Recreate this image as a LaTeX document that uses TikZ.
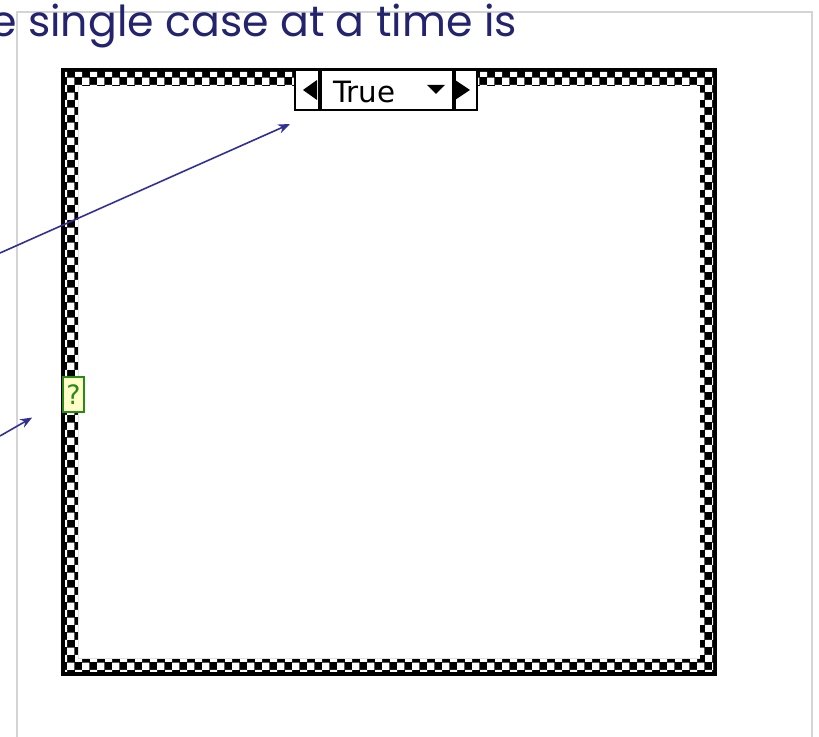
\documentclass[tikz,border=0pt]{standalone}
\usepackage{fontspec}
\newfontfamily\capfont{Poppins}
\newfontfamily\guifont{DejaVu Sans}
\usetikzlibrary{arrows.meta,patterns,calc}
\definecolor{nBlue}{RGB}{36,36,110}
\definecolor{aBlue}{RGB}{48,48,150}
\definecolor{fGreen}{RGB}{255,255,200}
\definecolor{dGreen}{RGB}{40,140,20}
\definecolor{lGray}{RGB}{212,212,212}
\begin{document}
\begin{tikzpicture}[x=0.75pt,y=-0.75pt,
  sel/.style={draw,line width=1.5pt,fill=white,inner sep=0,minimum height=30pt},
  a/.style={-{Stealth[length=9pt,width=7pt]},line width=1.2pt,aBlue}]
  \useasboundingbox (0,0) rectangle (819,737);
  \draw[lGray,line width=1pt] (17,737) |- (812,12) -- (812,737);
  \node[anchor=base west,inner sep=0,text=nBlue,font=\capfont\fontsize{32}{36}\selectfont] (cap) at (-10,37) {e single case at a time is};
  % case frame
  \fill[even odd rule] (62,69) rectangle (716,675) (78,86) rectangle (700,659);
  \fill[pattern=checkerboard,pattern color=white,even odd rule] (65,72) rectangle (713,672) (78,86) rectangle (700,659);
  \draw[line width=1.5pt] (62,69) rectangle (716,675);
  % selector
  \node[sel,minimum width=99pt] (mid) at (387,90) {};
  \node[sel,minimum width=18pt,anchor=east] (prev) at (mid.west) {};
  \node[sel,minimum width=16.5pt,anchor=west] (next) at (mid.east) {};
  \node[anchor=base west,inner sep=0,font=\guifont\fontsize{22}{22}\selectfont] (val) at (333,103) {True};
  \fill (427,85) -- (445,85) -- (436,94) -- cycle;
  \fill (317,80) -- (317,100) -- (303,90) -- cycle;
  \fill (455,80) -- (455,100) -- (470,90) -- cycle;
  % selector terminal
  \node[draw=dGreen,line width=1.5pt,fill=fGreen,inner sep=0,minimum width=15.5pt,minimum height=26pt,text=dGreen,font=\guifont\fontsize{20}{20}\selectfont] (term) at (73.5,394.5) {?};
  % pointers
  \coordinate (p1) at (0,253);
  \coordinate (p2) at (0,436);
  \draw[a] (p1) -- ([shift={(-4,13)}]prev.south west);
  \draw[a] (p2) -- ([shift={(-30,23)}]term.west);
\end{tikzpicture}
\end{document}
